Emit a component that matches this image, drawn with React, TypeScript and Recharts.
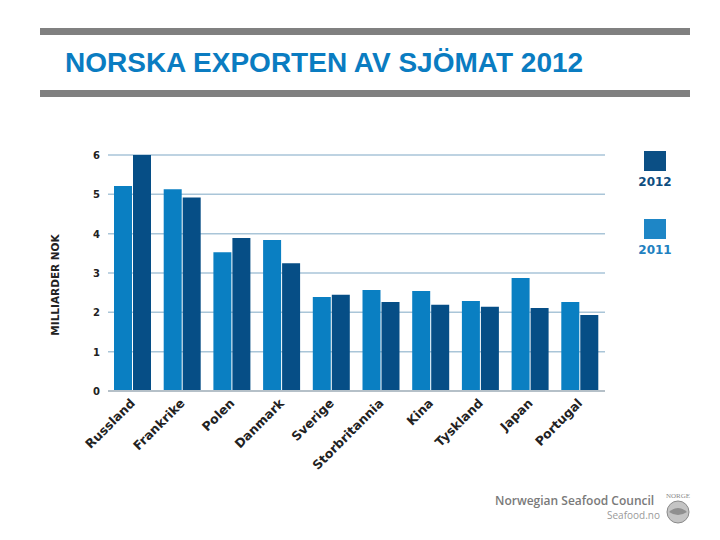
import React from 'react';
import { BarChart, Bar, XAxis, YAxis, CartesianGrid } from 'recharts';

const countries = ['Russland', 'Frankrike', 'Polen', 'Danmark', 'Sverige', 'Storbritannia', 'Kina', 'Tyskland', 'Japan', 'Portugal'];
const values2011 = [5.21, 5.13, 3.53, 3.84, 2.39, 2.57, 2.54, 2.29, 2.87, 2.26];
const values2012 = [6.0, 4.92, 3.89, 3.25, 2.45, 2.26, 2.19, 2.14, 2.11, 1.93];
const yTicks = [0, 1, 2, 3, 4, 5, 6];
const seriesNames = ['2011', '2012'];
const seriesColors = ['#0a7fc2', '#064e86'];

const data = countries.map((c, i) => ({ name: c, y2011: values2011[i], y2012: values2012[i] }));

const FONT = '"DejaVu Sans", Verdana, sans-serif';

const XTick = (props: any) => {
  const { x, y, payload } = props;
  return (
    <g transform={`translate(${x + 3},${y + 5})`}>
      <text textAnchor="end" transform="rotate(-45)" fontFamily={FONT} fontWeight={700} fontSize={12.5} fill="#222">
        {payload.value}
      </text>
    </g>
  );
};

const YTick = (props: any) => {
  const { x, y, payload } = props;
  return (
    <text x={x} y={y} dy={4} textAnchor="end" fontFamily={FONT} fontWeight={700} fontSize={10} fill="#222">
      {payload.value}
    </text>
  );
};

export default function App() {
  return (
    <div style={{ position: 'absolute', left: 0, top: 0, width: 720, height: 540, background: '#fff', overflow: 'hidden' }}>
      <div style={{ position: 'absolute', left: 40, top: 28, width: 650, height: 7, background: '#808080' }} />
      <div style={{ position: 'absolute', left: 40, top: 90, width: 650, height: 7, background: '#808080' }} />
      <div
        style={{
          position: 'absolute', left: 65, top: 47, fontFamily: '"Liberation Sans", Arial, sans-serif',
          fontWeight: 700, fontSize: 28, color: '#0a7cc1', whiteSpace: 'nowrap', lineHeight: '32px',
        }}
      >
        NORSKA EXPORTEN AV SJÖMAT 2012
      </div>
      <div
        style={{
          position: 'absolute', left: 55, top: 285, transform: 'translate(-50%,-50%) rotate(-90deg)',
          fontFamily: FONT, fontWeight: 700, fontSize: 10.5, color: '#222', whiteSpace: 'nowrap',
        }}
      >
        MILLIARDER NOK
      </div>
      <div style={{ position: 'absolute', left: 0, top: 0 }}>
        <BarChart
          width={720}
          height={540}
          data={data}
          margin={{ top: 155, right: 115, bottom: 89, left: 78 }}
          barCategoryGap={6}
          barGap={1}
        >
          <CartesianGrid vertical={false} stroke="#a9c5d8" strokeWidth={1.5} />
          <XAxis
            dataKey="name"
            interval={0}
            height={60}
            tick={<XTick />}
            tickLine={false}
            axisLine={{ stroke: '#b5c0c8', strokeWidth: 2 }}
          />
          <YAxis
            width={30}
            domain={[0, 6]}
            ticks={yTicks}
            interval={0}
            tick={<YTick />}
            tickLine={false}
            axisLine={false}
            tickSize={6}
            tickMargin={2}
          />
          <Bar dataKey="y2011" name={seriesNames[0]} fill={seriesColors[0]} isAnimationActive={false} />
          <Bar dataKey="y2012" name={seriesNames[1]} fill={seriesColors[1]} isAnimationActive={false} />
        </BarChart>
      </div>
      <div style={{ position: 'absolute', left: 632, top: 151, width: 46, fontFamily: FONT, fontWeight: 700, fontSize: 12, textAlign: 'center' }}>
        <div style={{ width: 22, height: 20, background: '#0b4f85', margin: '0 auto' }} />
        <div style={{ color: '#0d4d80', marginTop: 4 }}>{seriesNames[1]}</div>
        <div style={{ width: 22, height: 20, background: '#1e86c6', margin: '30px auto 0' }} />
        <div style={{ color: '#2180c0', marginTop: 4 }}>{seriesNames[0]}</div>
      </div>
      <div
        style={{
          position: 'absolute', left: 495, top: 494, fontFamily: '"Open Sans", sans-serif', fontWeight: 600,
          fontSize: 12, lineHeight: '14px', color: '#7a7a7a', whiteSpace: 'nowrap',
        }}
      >
        Norwegian Seafood Council
      </div>
      <div
        style={{
          position: 'absolute', left: 607, top: 509, fontFamily: '"Open Sans", sans-serif', fontSize: 10,
          lineHeight: '12px', color: '#9a9a9a', whiteSpace: 'nowrap',
        }}
      >
        Seafood.no
      </div>
      <svg style={{ position: 'absolute', left: 663, top: 490 }} width={30} height={36}>
        <text x={15} y={8} textAnchor="middle" fontFamily="Liberation Serif, serif" fontSize={7} fill="#8a8a8a">NORGE</text>
        <circle cx={15} cy={22} r={11} fill="#c4c4c4" stroke="#8a8a8a" strokeWidth={1} />
        <path d="M6 22 Q15 14 24 22 Q15 28 6 22 Z" fill="#8f8f8f" />
      </svg>
    </div>
  );
}
